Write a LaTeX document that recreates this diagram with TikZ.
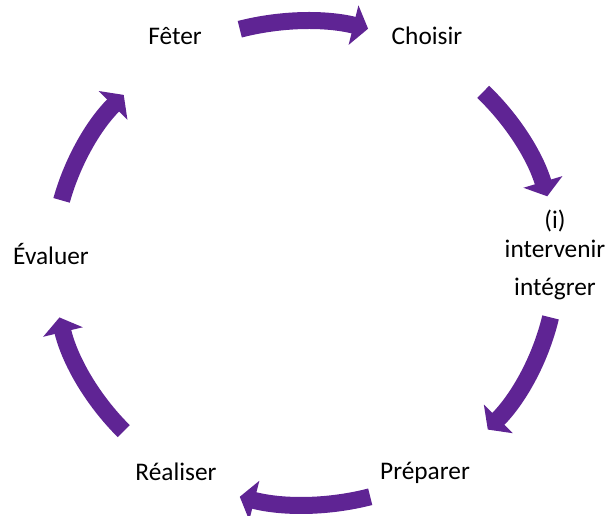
\documentclass[tikz,border=0pt]{standalone}
\usepackage{fontspec}
\setmainfont{Carlito}
\usepackage{xcolor}
\usepackage{tikz}
\usetikzlibrary{arrows.meta,calc}
\definecolor{cyclepurple}{RGB}{95,36,148}

\begin{document}
\begin{tikzpicture}[x=0.75pt,y=0.75pt,yscale=-1,xscale=1,
  cyclearrow/.style={draw=cyclepurple, line width=12.75pt, -{Triangle[length=11.25pt,width=30pt]}},
  steplabel/.style={anchor=base, inner sep=0.75pt, font=\fontsize{19}{22}\selectfont}]
\useasboundingbox (0,0) rectangle (610,516); %set diagram to the page size

%Centre of the cycle
\coordinate (c) at (305,263);

%Arrows: six arcs round the cycle, clockwise
\foreach \s/\e [count=\i] in {-105/-75.5,-45/-16,13/43.5,75/105,136/167,195/224} {
  \coordinate (s\i) at ($(c)+(\s:252 and 242)$);
  \draw [cyclearrow] (s\i) arc [start angle=\s, end angle=\e, x radius=252, y radius=242];
}

% Text Node
\node (feter) at (175,45) [steplabel] {Fêter};
% Text Node
\node (choisir) at (427,45) [steplabel] {Choisir};
% Text Node
\node (integrer) at (555,296) [steplabel, align=center, font=\fontsize{19}{21.75}\selectfont] {(i)\\intervenir\\[6.75pt]intégrer};
% Text Node
\node (preparer) at (425,479) [steplabel] {Préparer};
% Text Node
\node (realiser) at (176,480) [steplabel] {Réaliser};
% Text Node
\node (evaluer) at (51,265) [steplabel] {Évaluer};

\end{tikzpicture}
\end{document}
